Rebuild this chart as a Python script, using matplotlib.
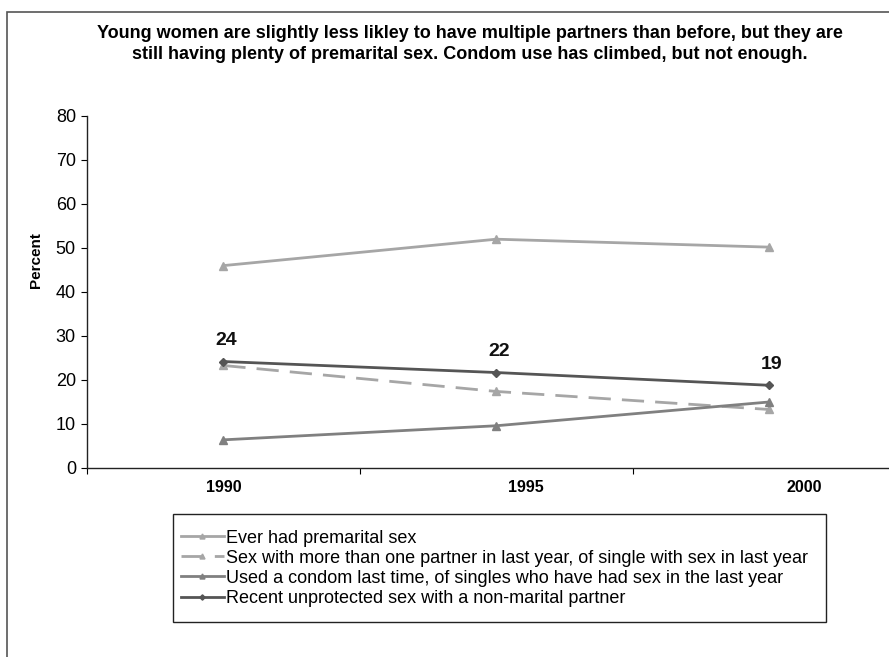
import matplotlib
matplotlib.use("Agg")
import matplotlib.pyplot as plt
from matplotlib.patches import Rectangle

plt.rcParams['font.family'] = ['Liberation Sans', 'DejaVu Sans']

# data
years = ['1990', '1995', '2000']
premarital = [46.0, 52.0, 50.2]
multi_partner = [23.3, 17.4, 13.3]
condom = [6.4, 9.6, 15.0]
unprotected = [24.2, 21.7, 18.8]
unprotected_labels = ['24', '22', '19']

labels = [
    'Ever had premarital sex',
    'Sex with more than one partner in last year, of single with sex in last year',
    'Used a condom last time, of singles who have had sex in the last year',
    'Recent unprotected sex with a non-marital partner',
]

title = ('Young women are slightly less likley to have multiple partners than before, but they are\n'
         'still having plenty of premarital sex. Condom use has climbed, but not enough.')

W, H = 889, 657
fig = plt.figure(figsize=(W / 100, H / 100), dpi=100)

# outer chart frame (cropped at right and bottom)
fig.patches.append(Rectangle((7 / W, -0.1), 1.2, 1.1 - 12 / H, transform=fig.transFigure,
                             fill=False, edgecolor='#555555', linewidth=1.2))

ax = fig.add_axes([87 / W, 1 - 468 / H, 802 / W, 352 / H])
x = list(range(len(years)))

l1, = ax.plot(x, premarital, color='#a6a6a6', lw=2, marker='^', ms=6)
l2, = ax.plot(x, multi_partner, color='#a6a6a6', lw=2, ls=(0, (8, 4)), marker='^', ms=6)
l3, = ax.plot(x, condom, color='#808080', lw=2, marker='^', ms=6)
l4, = ax.plot(x, unprotected, color='#555555', lw=2, marker='D', ms=4.5)

for xi, yi, t in zip(x, unprotected, unprotected_labels):
    ax.annotate(t, (xi, yi), xytext=(2, 9), textcoords='offset points',
                ha='center', va='bottom', fontsize=14, fontweight='bold', color='#111111')

ax.set_xlim(-0.5, 2.44)
ax.set_ylim(0, 80)
ax.set_yticks(range(0, 81, 10))
ax.tick_params(axis='y', labelsize=13, length=4, direction='out', pad=4)

# category boundary ticks, labels as minor ticks
ax.set_xticks([-0.5, 0.5, 1.5])
ax.set_xticklabels([])
ax.tick_params(axis='x', which='major', length=4, direction='out')
label_shift = [0.0, 0.11, 0.13]
ax.set_xticks([i + s for i, s in zip(x, label_shift)], minor=True)
ax.set_xticklabels(years, minor=True, fontsize=11.5, fontweight='bold')
ax.tick_params(axis='x', which='minor', length=0, pad=9)

ax.spines['top'].set_visible(False)
ax.spines['right'].set_visible(False)
for s in ['left', 'bottom']:
    ax.spines[s].set_color('#222222')
    ax.spines[s].set_linewidth(1)

fig.text(36 / W, 1 - 260 / H, 'Percent', rotation=90, ha='center', va='center',
         fontsize=11, fontweight='bold')

fig.text(470 / W, 1 - 44 / H, title, ha='center', va='center', fontsize=13,
         fontweight='bold', linespacing=1.25)

# legend box
fig.patches.append(Rectangle((173 / W, 1 - 622 / H), 653 / W, 108 / H, transform=fig.transFigure,
                             fill=False, edgecolor='#222222', linewidth=1))
fig.legend([l1, l2, l3, l4], labels, loc='upper left', bbox_to_anchor=(168 / W, 1 - 517 / H),
           frameon=False, fontsize=13, handlelength=2.4, handletextpad=0.1,
           labelspacing=0.17, borderpad=0.2, markerscale=0.6)

fig.savefig('out.png', dpi=100)
